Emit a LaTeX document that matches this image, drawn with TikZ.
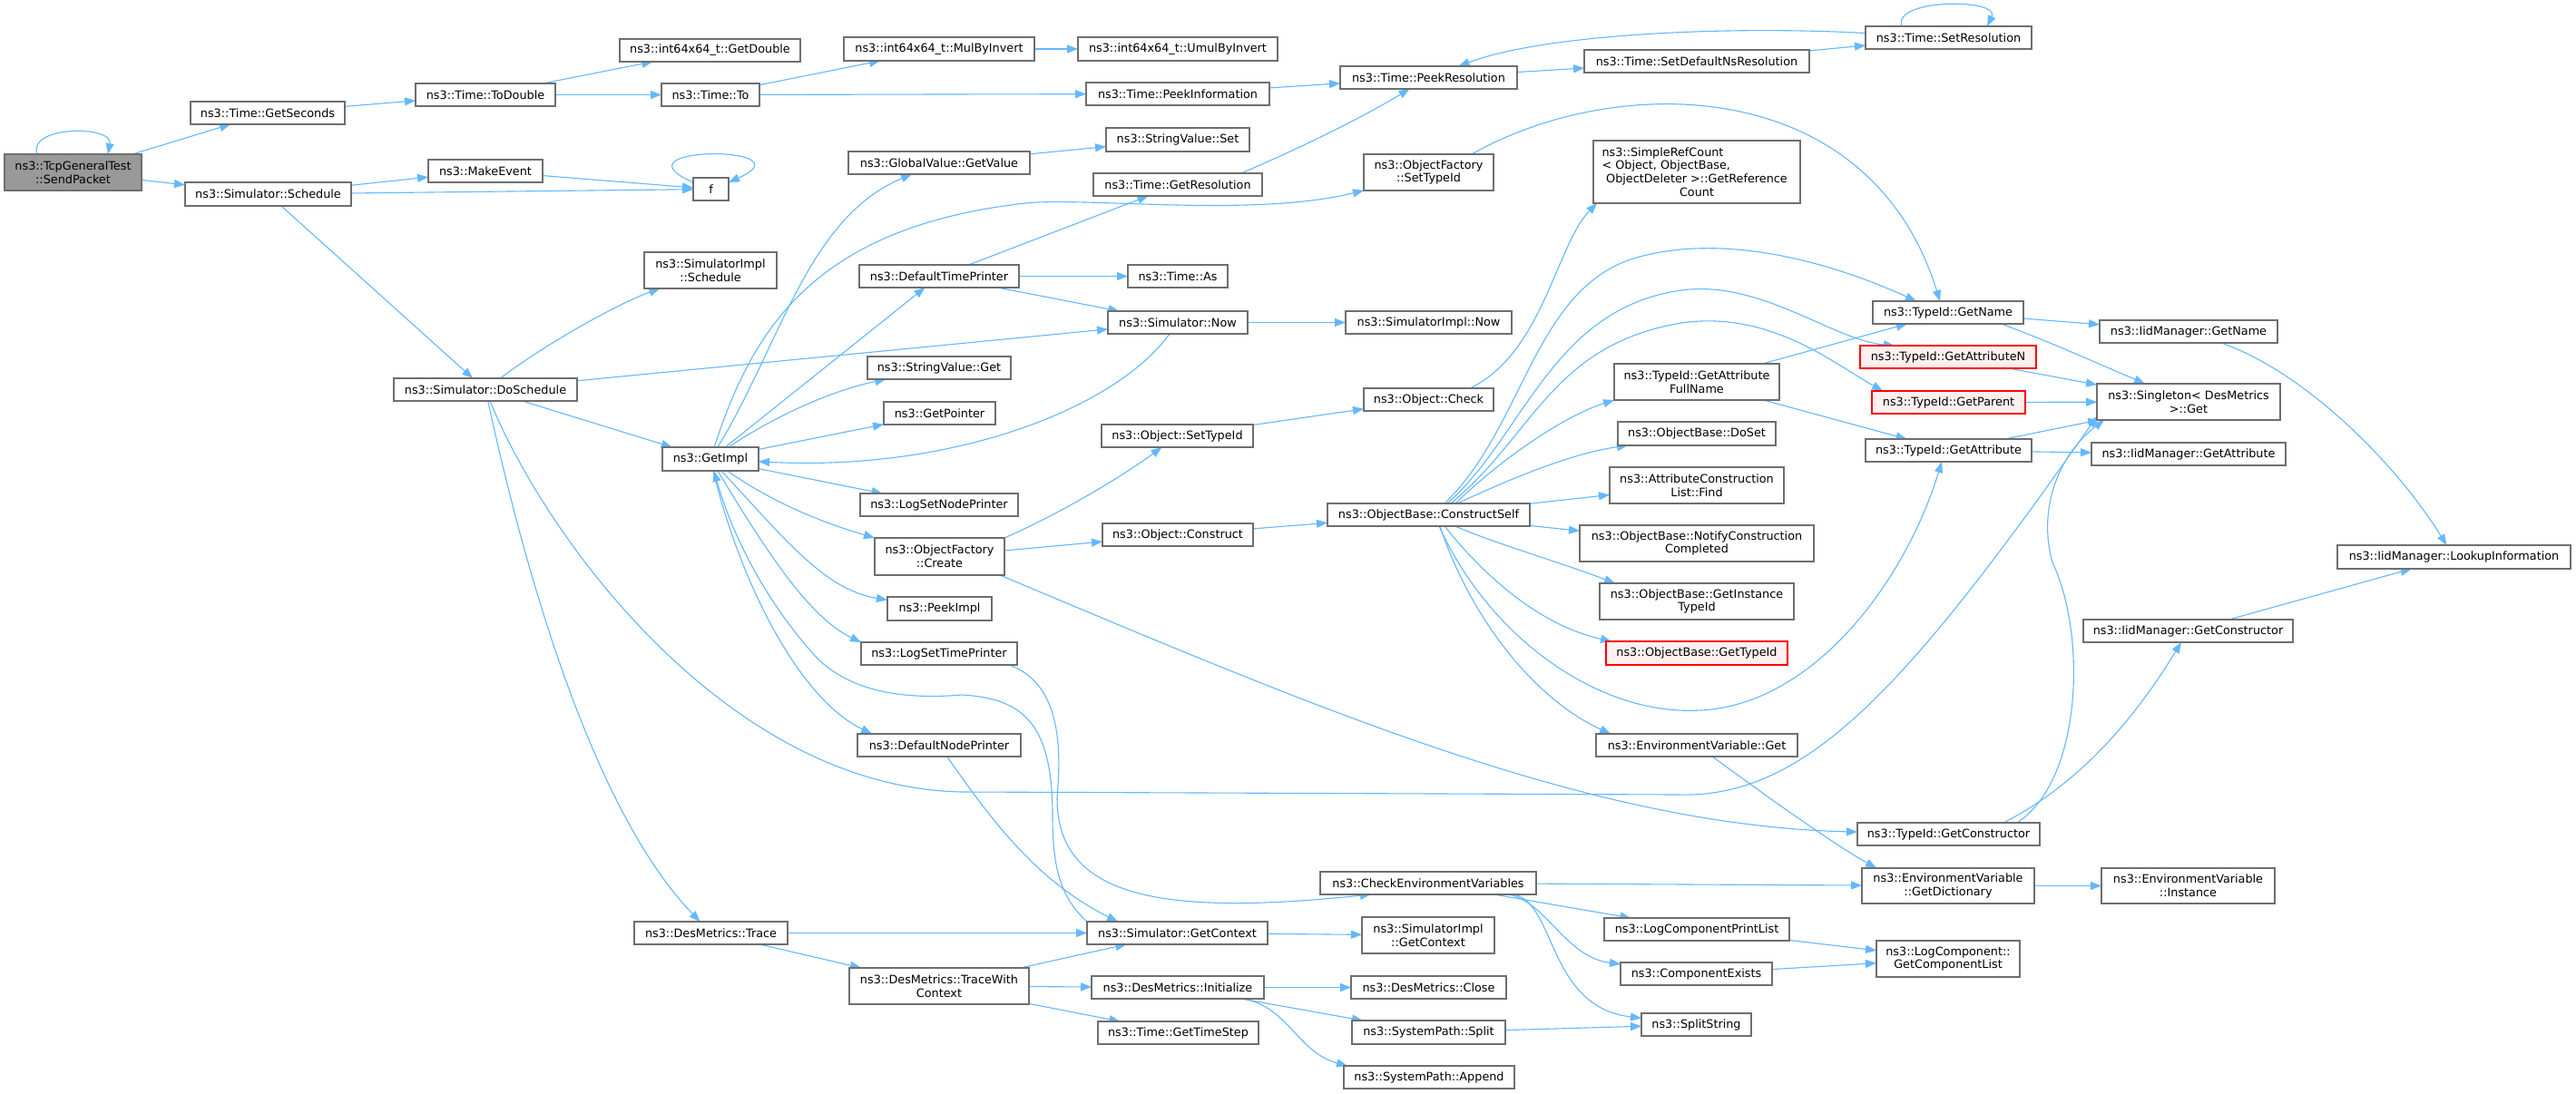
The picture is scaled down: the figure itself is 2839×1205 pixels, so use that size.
\documentclass[tikz,border=0pt]{standalone}
\usepackage{fontspec}
\setmainfont{DejaVu Sans}
\usetikzlibrary{arrows.meta,calc}
\definecolor{eblue}{HTML}{63B8FF}
\definecolor{ngrey}{HTML}{6E6E6E}
\definecolor{rootfill}{HTML}{999999}
\definecolor{redfill}{HTML}{FFF0F0}
\pgfdeclarelayer{back}
\pgfdeclarelayer{bg}
\pgfsetlayers{back,bg,main}
\newcommand\nd[7][]{\node[box,#1,minimum width={#4-#2},minimum height={#5-#3}] (#6) at ({(#2+#4)/2},{(#3+#5)/2}) {#7};}
\begin{document}
\begin{tikzpicture}[x=1pt,y=-1pt,
  box/.style={draw=ngrey,fill=white,line width=1.2pt,inner sep=0pt,outer sep=0pt,align=center,font=\fontsize{12.8}{14.8}\selectfont},
  rootbox/.style={fill=rootfill},
  redbox/.style={draw=red,fill=redfill},
  e/.style={draw=eblue,line width=1.1pt,-{Triangle[length=12pt,width=9pt]}}]
\begin{pgfonlayer}{back}
\fill[white] (0,0) rectangle (2839,1205);
\end{pgfonlayer}
\useasboundingbox (0,0) rectangle (2839,1205);
% nodes
\nd[rootbox]{5}{170}{156}{210}{sp}{ns3::TcpGeneralTest\\::SendPacket}
\nd{210}{112}{380}{137}{gsec}{ns3::Time::GetSeconds}
\nd{204}{201}{387}{227}{sched}{ns3::Simulator::Schedule}
\nd{458}{92}{612}{117}{todbl}{ns3::Time::ToDouble}
\nd{472}{176}{598}{201}{mkev}{ns3::MakeEvent}
\nd{434}{417}{636}{442}{dosch}{ns3::Simulator::DoSchedule}
\nd{683}{43}{882}{68}{gdbl}{ns3::int64x64\_t::GetDouble}
\nd{930}{41}{1140}{67}{mulinv}{ns3::int64x64\_t::MulByInvert}
\nd{1188}{41}{1408}{67}{umul}{ns3::int64x64\_t::UmulByInvert}
\nd{729}{92}{837}{117}{tto}{ns3::Time::To}
\nd{1197}{91}{1399}{116}{peekinfo}{ns3::Time::PeekInformation}
\nd{1219}{141}{1377}{167}{svset}{ns3::StringValue::Set}
\nd{935}{167}{1135}{192}{gvget}{ns3::GlobalValue::GetValue}
\nd{764}{196}{803}{221}{f}{f}
\nd{1205}{191}{1391}{216}{getres}{ns3::Time::GetResolution}
\nd{710}{278}{856}{318}{simplsch}{ns3::SimulatorImpl\\::Schedule}
\nd{947}{292}{1123}{317}{dtp}{ns3::DefaultTimePrinter}
\nd{1243}{292}{1353}{317}{tas}{ns3::Time::As}
\nd{1221}{343}{1375}{368}{now}{ns3::Simulator::Now}
\nd{956}{393}{1114}{418}{svget}{ns3::StringValue::Get}
\nd{974}{443}{1097}{468}{gptr}{ns3::GetPointer}
\nd{1214}{468}{1381}{493}{osettid}{ns3::Object::SetTypeId}
\nd{730}{493}{836}{519}{getimpl}{ns3::GetImpl}
\nd{948}{544}{1122}{569}{lsnp}{ns3::LogSetNodePrinter}
\nd{1215}{577}{1381}{602}{oconstr}{ns3::Object::Construct}
\nd{964}{593}{1107}{634}{ofcreate}{ns3::ObjectFactory\\::Create}
\nd{978}{658}{1093}{684}{peekimpl}{ns3::PeekImpl}
\nd{949}{708}{1121}{733}{lstp}{ns3::LogSetTimePrinter}
\nd{945}{809}{1125}{834}{dnp}{ns3::DefaultNodePrinter}
\nd{699}{1016}{868}{1041}{dmtrace}{ns3::DesMetrics::Trace}
\nd{1198}{1016}{1397}{1041}{getctx}{ns3::Simulator::GetContext}
\nd{936}{1067}{1134}{1107}{dmtwc}{ns3::DesMetrics::TraceWith\\Context}
\nd{1203}{1076}{1393}{1101}{dminit}{ns3::DesMetrics::Initialize}
\nd{1210}{1126}{1387}{1151}{gts}{ns3::Time::GetTimeStep}
\nd{1477}{73}{1672}{98}{peekres}{ns3::Time::PeekResolution}
\nd{1746}{55}{1994}{80}{setdef}{ns3::Time::SetDefaultNsResolution}
\nd{2056}{29}{2239}{54}{setres}{ns3::Time::SetResolution}
\nd{1503}{170}{1646}{210}{ofsettid}{ns3::ObjectFactory\\::SetTypeId}
\nd{1756}{155}{1984}{224}{srefc}{\makebox[209pt][l]{ns3::SimpleRefCount}\\\makebox[209pt][l]{< Object, ObjectBase,}\\ObjectDeleter >::GetReference\\Count}
\nd{1483}{343}{1666}{368}{simplnow}{ns3::SimulatorImpl::Now}
\nd{2064}{332}{2230}{357}{tidname}{ns3::TypeId::GetName}
\nd[redbox]{2050}{381}{2244}{406}{tidattrn}{ns3::TypeId::GetAttributeN}
\nd[redbox]{2063}{431}{2232}{456}{tidparent}{ns3::TypeId::GetParent}
\nd{2056}{484}{2239}{509}{tidattr}{ns3::TypeId::GetAttribute}
\nd{1503}{428}{1646}{453}{ocheck}{ns3::Object::Check}
\nd{1779}{401}{1961}{441}{fullname}{ns3::TypeId::GetAttribute\\FullName}
\nd{1783}{465}{1957}{491}{doset}{ns3::ObjectBase::DoSet}
\nd{1774}{515}{1966}{555}{aclfind}{ns3::AttributeConstruction\\List::Find}
\nd{1463}{555}{1686}{580}{cself}{ns3::ObjectBase::ConstructSelf}
\nd{1741}{579}{1999}{619}{notify}{ns3::ObjectBase::NotifyConstruction\\Completed}
\nd{1763}{643}{1977}{683}{instid}{ns3::ObjectBase::GetInstance\\TypeId}
\nd[redbox]{1770}{707}{1970}{733}{obgtid}{ns3::ObjectBase::GetTypeId}
\nd{1759}{809}{1981}{834}{envget}{ns3::EnvironmentVariable::Get}
\nd{2047}{907}{2248}{932}{tidctor}{ns3::TypeId::GetConstructor}
\nd{2052}{957}{2242}{996}{envdict}{ns3::EnvironmentVariable\\::GetDictionary}
\nd{1455}{961}{1693}{986}{checkenv}{ns3::CheckEnvironmentVariables}
\nd{1768}{1012}{1972}{1037}{lcpl}{ns3::LogComponentPrintList}
\nd{2068}{1037}{2226}{1077}{lcgcl}{ns3::LogComponent::\\GetComponentList}
\nd{1501}{1011}{1647}{1051}{simplctx}{ns3::SimulatorImpl\\::GetContext}
\nd{1786}{1061}{1953}{1086}{compex}{ns3::ComponentExists}
\nd{1489}{1076}{1660}{1101}{dmclose}{ns3::DesMetrics::Close}
\nd{1490}{1125}{1659}{1151}{spsplit}{ns3::SystemPath::Split}
\nd{1809}{1117}{1930}{1142}{splitstr}{ns3::SplitString}
\nd{1481}{1175}{1669}{1200}{spappend}{ns3::SystemPath::Append}
\nd{2314}{353}{2510}{378}{iidname}{ns3::IidManager::GetName}
\nd{2311}{423}{2513}{463}{singleton}{ns3::Singleton< DesMetrics\\ >::Get}
\nd{2305}{488}{2519}{513}{iidattr}{ns3::IidManager::GetAttribute}
\nd{2576}{601}{2833}{627}{lookup}{ns3::IidManager::LookupInformation}
\nd{2296}{683}{2527}{708}{iidctor}{ns3::IidManager::GetConstructor}
\nd{2316}{957}{2507}{996}{envinst}{ns3::EnvironmentVariable\\::Instance}
% edges
\begin{pgfonlayer}{bg}
\draw[e] ([xshift=36]sp.north west) .. controls (30,138) and (125,138) .. ([xshift=114]sp.north west);
\draw[e] (sp) -- (gsec);
\draw[e] (sp) -- (sched);
\draw[e] (gsec) -- (todbl);
\draw[e] (todbl) -- (gdbl);
\draw[e] (todbl) -- (tto);
\draw[e] (tto) -- (mulinv);
\draw[e] (tto) -- (peekinfo);
\draw[e] (mulinv) -- (umul);
\draw[e] (peekinfo) -- (peekres);
\draw[e] (peekres) -- (setdef);
\draw[e] (setdef) -- (setres);
\draw[e] ([xshift=40]setres.north west) .. controls (2085,-2) and (2205,-2) .. ([xshift=134]setres.north west);
\draw[e] (setres) .. controls (1900,28) and (1700,38) .. (peekres);
\draw[e] (sched) -- (mkev);
\draw[e] (sched) -- (f);
\draw[e] (mkev) -- (f);
\draw[e] ([yshift=-5]f.north west) .. controls (670,160) and (895,160) .. ([yshift=-5]f.north east);
\draw[e] (sched) -- (dosch);
\draw[e] (dosch) .. controls (600,380) and (680,335) .. (simplsch);
\draw[e] (dosch) -- (now);
\draw[e] (dosch) -- (getimpl);
\draw[e] (dosch) .. controls (585,660) and (660,900) .. (dmtrace);
\draw[e] (dosch) .. controls (600,590) and (800,868) .. (1060,873) -- (1850,876) .. controls (1990,880) and (2100,760) .. ([yshift=4]singleton.south west);
% GetImpl fan
\draw[e] (getimpl) .. controls (860,380) and (890,240) .. (gvget);
\draw[e] (getimpl) .. controls (830,360) and (900,250) .. (1130,224) .. controls (1200,217) and (1380,240) .. (ofsettid.south west);
\draw[e] (getimpl) -- (dtp);
\draw[e] (getimpl) .. controls (860,455) and (920,430) .. (svget);
\draw[e] (getimpl) -- (gptr);
\draw[e] (getimpl) -- (lsnp);
\draw[e] (getimpl) .. controls (860,560) and (920,580) .. (ofcreate.north west);
\draw[e] (getimpl) .. controls (870,600) and (910,650) .. (peekimpl);
\draw[e] (getimpl) .. controls (840,600) and (890,680) .. (lstp.north west);
\draw[e] (getimpl) .. controls (815,640) and (880,770) .. ([xshift=16]dnp.north west);
\draw[e] (now) .. controls (1230,450) and (1050,520) .. (getimpl);
\draw[e] (getctx.north west) .. controls (1170,990) and (1160,960) .. (1160,900) .. controls (1160,800) and (1130,770) .. (1060,766) .. controls (990,772) and (935,760) .. (900,725) .. controls (850,670) and (810,600) .. (getimpl);
\draw[e] (dtp) -- (getres);
\draw[e] (dtp) -- (tas);
\draw[e] (dtp) -- (now);
\draw[e] (now) -- (simplnow);
\draw[e] (gvget) -- (svset);
\draw[e] ([xshift=-23]getres.north east) .. controls (1440,160) and (1500,130) .. (peekres);
\draw[e] (ofcreate.north east) .. controls (1160,570) and (1230,530) .. (osettid);
\draw[e] (ofcreate) -- (oconstr);
\draw[e] ([xshift=-5]ofcreate.south east) .. controls (1450,780) and (1750,910) .. (tidctor);
\draw[e] (osettid) -- (ocheck);
\draw[e] (oconstr) -- (cself);
\draw[e] ([xshift=-26]ocheck.north east) .. controls (1700,390) and (1715,270) .. ([xshift=4]srefc.south west);
\draw[e] ([xshift=-24]ofsettid.north east) .. controls (1780,80) and (2060,80) .. ([xshift=74]tidname.north west);
% ConstructSelf fan
\draw[e] ([xshift=129]cself.north west) .. controls (1680,470) and (1690,320) .. (1800,285) .. controls (1900,255) and (2020,290) .. ([xshift=48]tidname.north west);
\draw[e] ([xshift=132]cself.north west) .. controls (1680,480) and (1710,340) .. (1853,320) .. controls (1940,308) and (2020,375) .. ([xshift=38]tidattrn.north west);
\draw[e] ([xshift=136]cself.north west) .. controls (1690,480) and (1710,380) .. (1853,356) .. controls (1950,342) and (2020,400) .. ([xshift=12]tidparent.north west);
\draw[e] ([xshift=141]cself.north west) .. controls (1650,510) and (1720,460) .. (fullname.south west);
\draw[e] ([xshift=143]cself.north west) .. controls (1660,530) and (1730,500) .. ([xshift=11]doset.south west);
\draw[e] (cself) -- (aclfind);
\draw[e] (cself) -- (notify);
\draw[e] (cself) .. controls (1650,600) and (1720,620) .. ([xshift=17]instid.north west);
\draw[e] ([xshift=129]cself.south west) .. controls (1640,640) and (1700,690) .. ([xshift=6]obgtid.north west);
\draw[e] ([xshift=124]cself.south west) .. controls (1620,680) and (1690,770) .. ([xshift=16]envget.north west);
\draw[e] ([xshift=123]cself.south west) .. controls (1640,700) and (1760,790) .. (1875,783) .. controls (2000,776) and (2100,640) .. ([xshift=84]tidattr.south west);
\draw[e] (fullname) -- (tidname);
\draw[e] (fullname) -- (tidattr);
\draw[e] (tidname) -- (iidname);
\draw[e] ([xshift=-24]tidname.south east) .. controls (2260,378) .. ([xshift=53]singleton.north west);
\draw[e] (tidattrn) -- (singleton);
\draw[e] (tidparent) -- (singleton);
\draw[e] (tidattr) -- (singleton);
\draw[e] (tidattr) -- (iidattr);
\draw[e] ([xshift=-25]tidctor.north east) .. controls (2295,860) and (2300,700) .. (2262,620) .. controls (2245,560) and (2270,500) .. ([xshift=8]singleton.south west);
\draw[e] ([xshift=-40]tidctor.north east) .. controls (2300,860) and (2360,780) .. (iidctor);
\draw[e] (iidctor) -- (lookup);
\draw[e] (iidname) .. controls (2540,410) and (2640,510) .. (lookup);
% lower part
\draw[e] (envget) .. controls (1950,880) and (2020,930) .. ([xshift=16]envdict.north west);
\draw[e] (envdict) -- (envinst);
\draw[e] (checkenv) -- (envdict);
\draw[e] (checkenv) -- (lcpl);
\draw[e] ([xshift=-30]checkenv.south east) .. controls (1705,995) and (1725,1055) .. (compex);
\draw[e] ([xshift=-25]checkenv.south east) .. controls (1715,995) and (1705,1110) .. (splitstr);
\draw[e] (lcpl) -- (lcgcl);
\draw[e] (compex) -- (lcgcl);
\draw[e] (spsplit) -- (splitstr);
\draw[e] (getctx) -- (simplctx);
\draw[e] (dmtrace) -- (getctx);
\draw[e] (dmtrace) -- (dmtwc);
\draw[e] (dmtwc) -- (getctx);
\draw[e] (dmtwc) -- (dminit);
\draw[e] (dmtwc) -- (gts);
\draw[e] (dminit) -- (dmclose);
\draw[e] (dminit) -- (spsplit);
\draw[e] ([xshift=-23]dminit.south east) .. controls (1420,1110) and (1430,1160) .. ([xshift=4]spappend.north west);
\draw[e] (dnp) .. controls (1090,900) and (1140,970) .. ([xshift=34]getctx.north west);
\draw[e] ([xshift=-9]lstp.south east) .. controls (1175,755) and (1168,840) .. (1165,880) .. controls (1165,990) and (1280,1010) .. ([xshift=56]checkenv.south west);
\end{pgfonlayer}
\end{tikzpicture}
\end{document}
